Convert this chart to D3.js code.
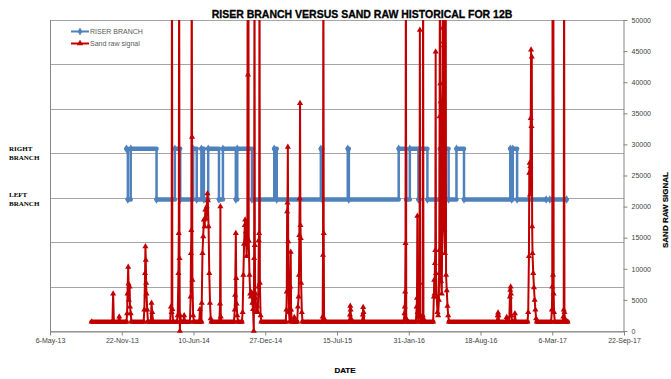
<!DOCTYPE html>
<html>
<head>
<meta charset="utf-8">
<script src="https://cdn.jsdelivr.net/npm/d3@7"></script>
<style>
  body { margin: 0; background: #fff; }
  svg { display: block; font-family: "Liberation Sans", Arial, sans-serif; }
</style>
</head>
<body>
<script>
// branch levels (0 - 3.5)
const LEFT = 1.48;
const RIGHT = 2.05;

// x axis tick labels (every 200 days)
const xTickLabels = ['6-May-13', '22-Nov-13', '10-Jun-14', '27-Dec-14', '15-Jul-15',
  '31-Jan-16', '18-Aug-16', '6-Mar-17', '22-Sep-17'];
const rightTicks = [0, 5000, 10000, 15000, 20000, 25000, 30000, 35000, 40000, 45000, 50000];
const leftTicks = [0, 0.5, 1, 1.5, 2, 2.5, 3, 3.5];

// riser branch: date the state starts, value (null = no data)
const riserBranch = [
  ['2013-12-05', RIGHT], ['2013-12-09', LEFT], ['2013-12-17', RIGHT], ['2014-02-27', LEFT],
  ['2014-04-19', RIGHT], ['2014-05-04', LEFT], ['2014-06-09', RIGHT], ['2014-06-19', LEFT],
  ['2014-07-02', RIGHT], ['2014-07-09', LEFT], ['2014-07-21', RIGHT], ['2014-08-20', LEFT],
  ['2014-08-31', RIGHT], ['2014-10-06', LEFT], ['2014-10-10', RIGHT], ['2014-11-20', LEFT],
  ['2015-01-21', RIGHT], ['2015-01-28', LEFT], ['2015-05-31', RIGHT], ['2015-06-04', LEFT],
  ['2015-08-14', RIGHT], ['2015-08-17', LEFT], ['2016-01-03', RIGHT], ['2016-01-24', LEFT],
  ['2016-02-03', RIGHT], ['2016-02-27', LEFT], ['2016-03-02', RIGHT], ['2016-03-23', LEFT],
  ['2016-04-27', RIGHT], ['2016-05-05', LEFT], ['2016-05-08', RIGHT], ['2016-05-21', LEFT],
  ['2016-06-12', RIGHT], ['2016-07-03', LEFT], ['2016-11-09', RIGHT], ['2016-11-13', LEFT],
  ['2016-11-16', RIGHT], ['2016-11-28', LEFT], ['2017-02-17', LEFT], ['2017-02-18', null],
  ['2017-02-27', LEFT], ['2017-04-15', LEFT]
];

// sand raw signal (values above 50000 run off the top of the chart)
const sandSignal = [
  ['2013-08-30', 1500],
  ['2013-10-27', 1500], ['2013-10-29', 6000], ['2013-10-31', 1500],
  ['2013-11-13', 1500], ['2013-11-15', 2300], ['2013-11-17', 1500],
  ['2013-12-05', 1500], ['2013-12-07', 2800], ['2013-12-08', 6000], ['2013-12-10', 10300],
  ['2013-12-11', 7600], ['2013-12-12', 5000], ['2013-12-14', 7100], ['2013-12-15', 3900],
  ['2013-12-17', 2800], ['2013-12-19', 1500],
  ['2014-01-22', 1500], ['2014-01-24', 3400], ['2014-01-26', 9300], ['2014-01-27', 13600],
  ['2014-01-28', 11400], ['2014-01-29', 7700], ['2014-01-30', 6000], ['2014-02-01', 3400],
  ['2014-02-03', 1500],
  ['2014-02-11', 1500], ['2014-02-13', 4500], ['2014-02-15', 3000], ['2014-02-17', 1500],
  ['2014-04-06', 1500], ['2014-04-08', 3900], ['2014-04-10', 3000], ['2014-04-11', 65000],
  ['2014-04-12', 3500], ['2014-04-14', 1500],
  ['2014-04-25', 1500], ['2014-04-27', 2500], ['2014-04-29', 9300], ['2014-04-30', 15700],
  ['2014-05-01', 65000], ['2014-05-02', 11700], ['2014-05-03', 0], ['2014-05-04', 2500],
  ['2014-05-06', 1500],
  ['2014-05-13', 1500], ['2014-05-15', 2500], ['2014-05-17', 1500],
  ['2014-05-31', 1500], ['2014-06-02', 5500], ['2014-06-03', 12500], ['2014-06-04', 16200],
  ['2014-06-05', 65000], ['2014-06-06', 31200], ['2014-06-07', 8200], ['2014-06-09', 2500],
  ['2014-06-11', 1500],
  ['2014-06-26', 1500], ['2014-06-28', 3500], ['2014-06-30', 1500],
  ['2014-07-02', 1500], ['2014-07-03', 4500], ['2014-07-05', 12500], ['2014-07-07', 15200],
  ['2014-07-09', 17900], ['2014-07-11', 16800], ['2014-07-13', 19500], ['2014-07-15', 18000],
  ['2014-07-17', 20000], ['2014-07-19', 22100], ['2014-07-20', 21000], ['2014-07-22', 16800],
  ['2014-07-24', 9300], ['2014-07-26', 4500], ['2014-07-28', 2000], ['2014-07-30', 1500],
  ['2014-08-21', 1500], ['2014-08-23', 4400], ['2014-08-24', 20000], ['2014-08-25', 2300],
  ['2014-08-27', 1500],
  ['2014-10-01', 1500], ['2014-10-03', 3400], ['2014-10-04', 5800], ['2014-10-06', 15700],
  ['2014-10-07', 8500], ['2014-10-08', 4400], ['2014-10-10', 2500], ['2014-10-12', 1500],
  ['2014-10-23', 1500], ['2014-10-25', 3000], ['2014-10-27', 9000], ['2014-10-29', 14000],
  ['2014-10-31', 17000], ['2014-11-01', 17900], ['2014-11-03', 16000], ['2014-11-05', 12000],
  ['2014-11-07', 15000], ['2014-11-08', 65000], ['2014-11-09', 41200], ['2014-11-10', 65000],
  ['2014-11-11', 14500], ['2014-11-13', 9000], ['2014-11-15', 6000], ['2014-11-17', 5500],
  ['2014-11-19', 6200], ['2014-11-21', 4500], ['2014-11-23', 3500], ['2014-11-25', 0],
  ['2014-11-26', 11700], ['2014-11-27', 65000], ['2014-11-28', 13800], ['2014-11-29', 5300],
  ['2014-11-30', 6000], ['2014-12-02', 3000], ['2014-12-04', 4000], ['2014-12-06', 3000],
  ['2014-12-08', 7100], ['2014-12-09', 14600], ['2014-12-10', 15700], ['2014-12-11', 65000],
  ['2014-12-12', 7700], ['2014-12-14', 2500], ['2014-12-16', 1500],
  ['2015-02-22', 1500], ['2015-02-24', 3400], ['2015-02-25', 6300], ['2015-02-26', 19200],
  ['2015-02-27', 20600], ['2015-02-28', 29600], ['2015-03-01', 14400], ['2015-03-03', 3000],
  ['2015-03-05', 1500], ['2015-03-06', 3400], ['2015-03-07', 7100], ['2015-03-08', 12700],
  ['2015-03-09', 3400], ['2015-03-11', 1500],
  ['2015-03-16', 1500], ['2015-03-18', 2200], ['2015-03-20', 1500],
  ['2015-03-26', 1500], ['2015-03-28', 3900], ['2015-03-30', 5500], ['2015-03-31', 9000],
  ['2015-04-01', 15400], ['2015-04-02', 21300], ['2015-04-03', 36600], ['2015-04-04', 17000],
  ['2015-04-05', 14900], ['2015-04-06', 7700], ['2015-04-08', 3000], ['2015-04-10', 1500],
  ['2015-06-03', 1500], ['2015-06-05', 2300], ['2015-06-06', 12200], ['2015-06-07', 65000],
  ['2015-06-08', 15700], ['2015-06-09', 2000], ['2015-06-11', 1500],
  ['2015-08-18', 1500], ['2015-08-20', 2600], ['2015-08-21', 4000], ['2015-08-22', 3400],
  ['2015-08-23', 2000], ['2015-08-25', 1500],
  ['2015-09-23', 1500], ['2015-09-25', 2600], ['2015-09-26', 3800], ['2015-09-27', 3000],
  ['2015-09-29', 1500],
  ['2016-01-17', 1500], ['2016-01-19', 2800], ['2016-01-20', 3900], ['2016-01-21', 6300],
  ['2016-01-22', 14100], ['2016-01-23', 65000], ['2016-01-24', 2000], ['2016-01-26', 1500],
  ['2016-02-20', 1500], ['2016-02-22', 3900], ['2016-02-23', 5300], ['2016-02-24', 18500],
  ['2016-02-25', 3000], ['2016-02-27', 1500], ['2016-03-01', 7700], ['2016-03-02', 48400],
  ['2016-03-03', 2500], ['2016-03-05', 1500], ['2016-03-09', 1500], ['2016-03-10', 2500],
  ['2016-03-11', 65000], ['2016-03-12', 2000], ['2016-03-14', 1500],
  ['2016-04-08', 1500], ['2016-04-10', 5500], ['2016-04-11', 8200], ['2016-04-12', 6000],
  ['2016-04-13', 10900], ['2016-04-14', 13000], ['2016-04-15', 44900], ['2016-04-16', 9300],
  ['2016-04-18', 5500], ['2016-04-20', 3000], ['2016-04-22', 2500], ['2016-04-24', 5000],
  ['2016-04-25', 13000], ['2016-04-26', 34500], ['2016-04-27', 65000], ['2016-04-28', 39800],
  ['2016-04-29', 36900], ['2016-04-30', 8000], ['2016-05-02', 6000], ['2016-05-04', 20800],
  ['2016-05-05', 48700], ['2016-05-06', 65000], ['2016-05-07', 46500], ['2016-05-08', 45900],
  ['2016-05-09', 16200], ['2016-05-11', 12500], ['2016-05-13', 65000], ['2016-05-14', 9000],
  ['2016-05-16', 6500], ['2016-05-18', 4000], ['2016-05-20', 2500], ['2016-05-22', 1500],
  ['2016-10-03', 1500], ['2016-10-05', 2500], ['2016-10-06', 2950], ['2016-10-07', 2500],
  ['2016-10-09', 1500],
  ['2016-10-28', 1500], ['2016-10-30', 2200], ['2016-11-01', 1500],
  ['2016-11-06', 1500], ['2016-11-08', 5500], ['2016-11-09', 6600], ['2016-11-10', 7100],
  ['2016-11-11', 6000], ['2016-11-12', 2500], ['2016-11-14', 1500],
  ['2016-11-20', 1500], ['2016-11-22', 2800], ['2016-11-24', 1500],
  ['2016-12-27', 1500], ['2016-12-29', 3000], ['2016-12-31', 12000], ['2017-01-01', 25400],
  ['2017-01-02', 27000], ['2017-01-03', 21900], ['2017-01-04', 26500], ['2017-01-05', 34200],
  ['2017-01-06', 45200], ['2017-01-07', 32900], ['2017-01-08', 44100], ['2017-01-09', 16800],
  ['2017-01-10', 12500], ['2017-01-12', 9300], ['2017-01-14', 7000], ['2017-01-16', 5000],
  ['2017-01-18', 3400], ['2017-01-20', 2000], ['2017-01-22', 1500],
  ['2017-03-03', 1500], ['2017-03-05', 3400], ['2017-03-06', 7100], ['2017-03-07', 65000],
  ['2017-03-08', 9000], ['2017-03-09', 65000], ['2017-03-10', 6000], ['2017-03-11', 3000],
  ['2017-03-13', 1500],
  ['2017-04-04', 1500], ['2017-04-06', 2300], ['2017-04-07', 3400], ['2017-04-08', 65000],
  ['2017-04-09', 3000], ['2017-04-10', 2000], ['2017-04-12', 1500], ['2017-04-18', 1500]
];
const BASELINE = 1500;

const width = 671;
const height = 379;
const plot = { left: 50, right: 624, top: 20, bottom: 331 };
const blue = '#4F81BD';
const red = '#C00000';
const gridColor = '#A6A6A6';
const axisColor = '#868686';
const labelColor = '#404040';

const parseIso = d3.utcParse('%Y-%m-%d');
const parseTick = d3.utcParse('%d-%b-%y');
const xTicks = xTickLabels.map(parseTick);

const riser = riserBranch.map(d => ({ date: parseIso(d[0]), value: d[1] }));
const sand = sandSignal.map(d => ({ date: parseIso(d[0]), value: d[1] }));

const x = d3.scaleUtc()
    .domain([xTicks[0], xTicks[xTicks.length - 1]])
    .range([plot.left, plot.right]);
const yLeft = d3.scaleLinear().domain([0, 3.5]).range([plot.bottom, plot.top]);
const yRight = d3.scaleLinear().domain([0, 50000]).range([plot.bottom, plot.top]);

const svg = d3.select('body').append('svg')
    .attr('width', width)
    .attr('height', height);

svg.append('defs').append('clipPath')
    .attr('id', 'plotClip')
  .append('rect')
    .attr('x', plot.left - 4)
    .attr('y', plot.top)
    .attr('width', plot.right - plot.left + 8)
    .attr('height', plot.bottom - plot.top + 6);

// gridlines from the primary axis
svg.append('g')
  .selectAll('line')
  .data(leftTicks)
  .enter().append('line')
    .attr('x1', plot.left)
    .attr('x2', plot.right)
    .attr('y1', d => Math.round(yLeft(d)) + 0.5)
    .attr('y2', d => Math.round(yLeft(d)) + 0.5)
    .attr('stroke', gridColor)
    .attr('stroke-width', 1);

// left border
svg.append('line')
    .attr('x1', plot.left + 0.5).attr('x2', plot.left + 0.5)
    .attr('y1', plot.top).attr('y2', plot.bottom)
    .attr('stroke', axisColor);

// x axis
const xAxis = svg.append('g')
    .attr('transform', 'translate(0,' + (plot.bottom + 0.5) + ')')
    .call(d3.axisBottom(x)
        .tickValues(xTicks)
        .tickFormat((d, i) => xTickLabels[i])
        .tickSize(4)
        .tickSizeOuter(0));
xAxis.select('.domain').attr('stroke', axisColor);
xAxis.selectAll('.tick line').attr('stroke', axisColor);
xAxis.selectAll('.tick text')
    .attr('fill', labelColor)
    .attr('font-size', '7px')
    .attr('font-family', '"Liberation Sans", Arial, sans-serif');

// right axis
const yAxis = svg.append('g')
    .attr('transform', 'translate(' + (plot.right - 0.5) + ',0)')
    .call(d3.axisRight(yRight)
        .tickValues(rightTicks)
        .tickFormat(d3.format('d'))
        .tickSize(4)
        .tickSizeOuter(0));
yAxis.select('.domain').attr('stroke', axisColor);
yAxis.selectAll('.tick line').attr('stroke', axisColor);
yAxis.selectAll('.tick text')
    .attr('fill', labelColor)
    .attr('font-size', '7px')
    .attr('font-family', '"Liberation Sans", Arial, sans-serif')
    .attr('x', 8);

const series = svg.append('g').attr('clip-path', 'url(#plotClip)');

// riser branch: thin step line plus the thick level segments that the dense markers make
const riserLine = d3.line()
    .defined(d => d.value != null)
    .curve(d3.curveStepAfter)
    .x(d => x(d.date))
    .y(d => yLeft(d.value));

series.append('path')
    .datum(riser)
    .attr('fill', 'none')
    .attr('stroke', blue)
    .attr('stroke-width', 2.5)
    .attr('d', riserLine);

const levelSegments = d3.pairs(riser).filter(p => p[0].value != null);
series.append('g')
  .selectAll('line')
  .data(levelSegments)
  .enter().append('line')
    .attr('x1', d => x(d[0].date))
    .attr('x2', d => x(d[1].date))
    .attr('y1', d => yLeft(d[0].value))
    .attr('y2', d => yLeft(d[0].value))
    .attr('stroke', blue)
    .attr('stroke-width', 4.5)
    .attr('stroke-linecap', 'round');

series.append('g')
  .selectAll('path')
  .data(riser.filter(d => d.value != null))
  .enter().append('path')
    .attr('transform', d => 'translate(' + x(d.date) + ',' + yLeft(d.value) + ')')
    .attr('d', d3.symbol().type(d3.symbolDiamond).size(22))
    .attr('fill', blue);

// sand raw signal
const sandLine = d3.line()
    .x(d => x(d.date))
    .y(d => yRight(d.value));

series.append('path')
    .datum(sand)
    .attr('fill', 'none')
    .attr('stroke', red)
    .attr('stroke-width', 2)
    .attr('stroke-linejoin', 'round')
    .attr('d', sandLine);

const baseSegments = d3.pairs(sand).filter(p => p[0].value === BASELINE && p[1].value === BASELINE);
series.append('g')
  .selectAll('line')
  .data(baseSegments)
  .enter().append('line')
    .attr('x1', d => x(d[0].date))
    .attr('x2', d => x(d[1].date))
    .attr('y1', d => yRight(d[0].value))
    .attr('y2', d => yRight(d[1].value))
    .attr('stroke', red)
    .attr('stroke-width', 4.5)
    .attr('stroke-linecap', 'round');

series.append('g')
  .selectAll('path')
  .data(sand)
  .enter().append('path')
    .attr('transform', d => 'translate(' + x(d.date) + ',' + yRight(d.value) + ')')
    .attr('d', d3.symbol().type(d3.symbolTriangle).size(16))
    .attr('fill', red);

// legend
const legend = svg.append('g').attr('transform', 'translate(71,0)');
const legendItems = [
  { label: 'RISER BRANCH', color: blue, symbol: d3.symbolDiamond, y: 31.5 },
  { label: 'Sand raw signal', color: red, symbol: d3.symbolTriangle, y: 43.5 }
];
legendItems.forEach(item => {
    legend.append('line')
        .attr('x1', 0).attr('x2', 18)
        .attr('y1', item.y).attr('y2', item.y)
        .attr('stroke', item.color)
        .attr('stroke-width', 2);
    legend.append('path')
        .attr('transform', 'translate(9,' + item.y + ')')
        .attr('d', d3.symbol().type(item.symbol).size(18))
        .attr('fill', item.color);
    legend.append('text')
        .attr('x', 19)
        .attr('y', item.y)
        .attr('dy', '0.35em')
        .attr('font-size', '7px')
        .attr('fill', '#595959')
        .text(item.label);
});

// title and axis titles
svg.append('text')
    .attr('x', 362)
    .attr('y', 17.5)
    .attr('text-anchor', 'middle')
    .attr('font-size', '10.5px')
    .attr('font-weight', 'bold')
    .attr('fill', '#000')
    .attr('stroke', '#000')
    .attr('stroke-width', 0.3)
    .text('RISER BRANCH VERSUS SAND RAW HISTORICAL FOR 12B');

svg.append('text')
    .attr('x', 345)
    .attr('y', 373)
    .attr('text-anchor', 'middle')
    .attr('font-size', '8px')
    .attr('font-weight', 'bold')
    .attr('fill', '#000')
    .attr('stroke', '#000')
    .attr('stroke-width', 0.2)
    .text('DATE');

svg.append('text')
    .attr('transform', 'translate(668,210) rotate(-90)')
    .attr('text-anchor', 'middle')
    .attr('font-size', '8px')
    .attr('font-weight', 'bold')
    .attr('fill', '#000')
    .attr('stroke', '#000')
    .attr('stroke-width', 0.2)
    .text('SAND RAW SIGNAL');

// branch labels on the left
const branchLabels = [
  { lines: ['RIGHT', 'BRANCH'], value: RIGHT },
  { lines: ['LEFT', 'BRANCH'], value: LEFT }
];
branchLabels.forEach(b => {
    const t = svg.append('text')
        .attr('font-family', '"Liberation Serif", "DejaVu Serif", serif')
        .attr('font-size', '7px')
        .attr('font-weight', 'bold')
        .attr('fill', '#000');
    b.lines.forEach((line, i) => {
        t.append('tspan')
            .attr('x', 9)
            .attr('y', yLeft(b.value) + (b.value === RIGHT ? 2.5 : -2) + i * 8.5)
            .text(line);
    });
});
</script>
</body>
</html>
